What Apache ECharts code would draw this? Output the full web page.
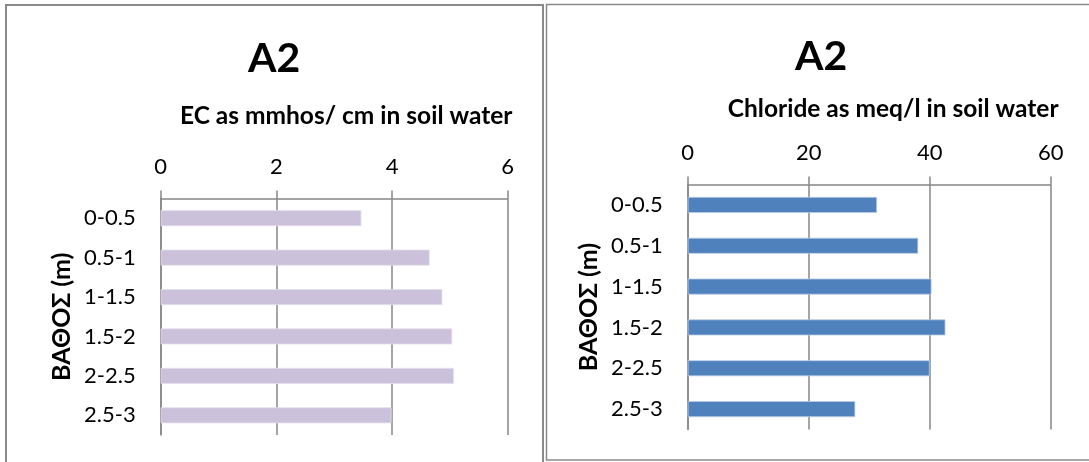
<!DOCTYPE html>
<html>
<head>
<meta charset="utf-8">
<script src="https://cdn.jsdelivr.net/npm/echarts@6/dist/echarts.min.js"></script>
<style>
html,body{margin:0;padding:0;background:#fff;}
#chart{width:1089px;height:462px;}
</style>
</head>
<body>
<div id="chart"></div>
<script>
// Data
const depths = ['0-0.5', '0.5-1', '1-1.5', '1.5-2', '2-2.5', '2.5-3'];
const ecValues = [3.47, 4.65, 4.87, 5.04, 5.07, 3.99];
const chlorideValues = [31.3, 38.1, 40.3, 42.6, 40.0, 27.7];
const titles = ['A2', 'A2'];
const xNames = ['EC as mmhos/ cm in soil water', 'Chloride as meq/l in soil water'];
const yName = 'ΒΑΘΟΣ (m)';

const FONT = 'Lato, "Open Sans", "Noto Sans", sans-serif';
const GRID_COLOR = '#878787';

function xAxis(gridIndex, max, interval, name, shift, gap) {
  return {
    type: 'value', gridIndex, position: 'top', min: 0, max, interval,
    name, nameLocation: 'middle', nameGap: gap,
    nameTextStyle: { fontFamily: FONT, fontWeight: 'bold', fontSize: 24.5, color: '#000', padding: [0, 0, 0, shift] },
    axisLine: { show: true, lineStyle: { color: GRID_COLOR, width: 1.5 } },
    axisTick: { show: true, length: 8, lineStyle: { color: GRID_COLOR, width: 1.5 } },
    axisLabel: { fontFamily: FONT, fontSize: 22, color: '#000', margin: 21 },
    splitLine: { show: true, lineStyle: { color: GRID_COLOR, width: 1.5 } }
  };
}
function yAxis(gridIndex, gap) {
  return {
    type: 'category', gridIndex, data: depths, inverse: true,
    name: yName, nameLocation: 'middle', nameGap: gap, nameRotate: 90,
    nameTextStyle: { fontFamily: FONT, fontWeight: 'bold', fontSize: 25, color: '#000' },
    axisLine: { show: true, lineStyle: { color: GRID_COLOR, width: 1.5 } },
    axisTick: { show: false },
    axisLabel: { fontFamily: FONT, fontSize: 22, color: '#000', margin: 25 },
    splitLine: { show: false }
  };
}

const chart = echarts.init(document.getElementById('chart'), null, { renderer: 'canvas' });
chart.setOption({
  backgroundColor: '#fff',
  animation: false,
  title: [
    { text: titles[0], left: 243, top: 33, textStyle: { fontFamily: FONT, fontWeight: 'bold', fontSize: 41, color: '#000' } },
    { text: titles[1], left: 790, top: 31, textStyle: { fontFamily: FONT, fontWeight: 'bold', fontSize: 41, color: '#000' } }
  ],
  graphic: [
    { type: 'rect', shape: { x: 6, y: 5, width: 537, height: 480 }, style: { fill: 'none', stroke: '#8a8a8a', lineWidth: 2 }, z: 100 },
    { type: 'rect', shape: { x: 546.5, y: 4.5, width: 560, height: 455.5 }, style: { fill: 'none', stroke: '#8a8a8a', lineWidth: 1.5 }, z: 100 }
  ],
  grid: [
    { left: 160.7, top: 198.5, width: 347, height: 236.5 },
    { left: 687.7, top: 184.5, width: 363, height: 245 }
  ],
  xAxis: [xAxis(0, 6, 2, xNames[0], 24, 70), xAxis(1, 60, 20, xNames[1], 48, 63)],
  yAxis: [yAxis(0, 86), yAxis(1, 86)],
  series: [
    { type: 'bar', xAxisIndex: 0, yAxisIndex: 0, data: ecValues, barWidth: 16,
      itemStyle: { color: '#CCC1DA', borderColor: '#E4DEEC', borderWidth: 0.8 } },
    { type: 'bar', xAxisIndex: 1, yAxisIndex: 1, data: chlorideValues, barWidth: 16,
      itemStyle: { color: '#4F81BD', borderColor: '#B9CDE5', borderWidth: 0.8 } }
  ]
});
</script>
</body>
</html>
